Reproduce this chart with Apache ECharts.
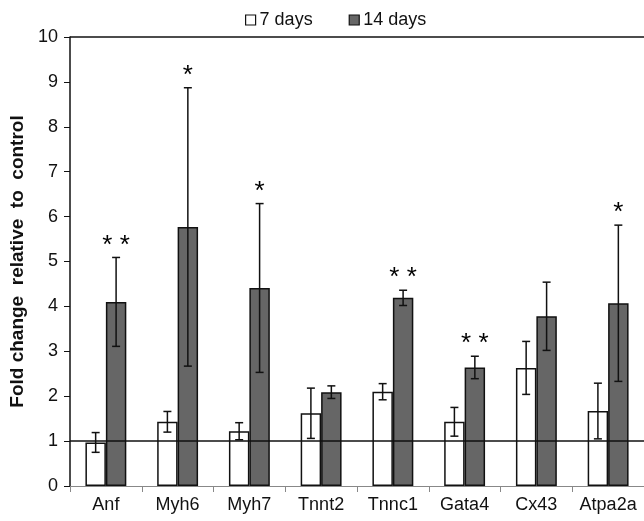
<!DOCTYPE html>
<html>
<head>
<meta charset="utf-8">
<script src="https://cdn.jsdelivr.net/npm/echarts@6/dist/echarts.min.js"></script>
<style>html,body{margin:0;padding:0;background:#fff}#c{width:644px;height:521px}</style>
</head>
<body>
<div id="c"></div>
<script>
var categories = ['Anf','Myh6','Myh7','Tnnt2','Tnnc1','Gata4','Cx43','Atpa2a'];
var days7 = [0.97, 1.43, 1.22, 1.62, 2.10, 1.43, 2.63, 1.67];
var err7 = [0.22, 0.23, 0.19, 0.56, 0.18, 0.32, 0.59, 0.62];
var days14 = [4.10, 5.77, 4.41, 2.09, 4.19, 2.64, 3.78, 4.07];
var err14 = [0.99, 3.10, 1.88, 0.14, 0.17, 0.25, 0.76, 1.74];
var sig14 = ['**', '*', '*', '', '**', '**', '', '*'];
var yTicks = [0,1,2,3,4,5,6,7,8,9,10];

var chart = echarts.init(document.getElementById('c'));
var BW = 0.285;
function errSeries(vals, errs, side, lw, name) {
  return {
    type: 'custom', name: name + ' err', z: 5,
    data: vals.map(function (v, i) { return [i, v, errs[i]]; }),
    renderItem: function (params, api) {
      var i = api.value(0), v = api.value(1), e = api.value(2);
      var band = api.size([1, 0])[0];
      var cx = api.coord([i, v])[0] + side * band * BW / 2;
      var yt = api.coord([i, v + e])[1];
      var yb = api.coord([i, v - e])[1];
      var cap = 4;
      var st = { stroke: '#111', lineWidth: lw };
      return { type: 'group', children: [
        { type: 'line', shape: { x1: cx, y1: yt, x2: cx, y2: yb }, style: st },
        { type: 'line', shape: { x1: cx - cap, y1: yt, x2: cx + cap, y2: yt }, style: st },
        { type: 'line', shape: { x1: cx - cap, y1: yb, x2: cx + cap, y2: yb }, style: st }
      ]};
    }
  };
}
var sigSeries = {
  type: 'custom', name: 'sig', z: 6,
  data: days14.map(function (v, i) { return [i, v + err14[i]]; }),
  renderItem: function (params, api) {
    var i = api.value(0), t = api.value(1);
    var s = sig14[i];
    if (!s) return null;
    var band = api.size([1, 0])[0];
    var cx = api.coord([i, t])[0] + band * BW / 2;
    var y = api.coord([i, t])[1];
    return { type: 'text', style: {
      x: cx, y: y + 1, text: s.split('').join(' '), textAlign: 'center', textVerticalAlign: 'bottom',
      font: '26px "Liberation Sans", Arial, sans-serif', fill: '#000'
    }};
  }
};

chart.setOption({
  animation: false,
  textStyle: { fontFamily: '"Liberation Sans", Arial, sans-serif' },
  legend: {
    top: 6, left: 240, itemWidth: 10, itemHeight: 10, itemGap: 36, icon: 'rect',
    textStyle: { fontSize: 18, color: '#111', padding: [0, 0, 0, -1] },
    data: [
      { name: '7 days', itemStyle: { color: '#fff', borderColor: '#111', borderWidth: 1.2 } },
      { name: '14 days', itemStyle: { color: '#666', borderColor: '#111', borderWidth: 1.2 } }
    ]
  },
  grid: { left: 68, right: 0, top: 37, bottom: 35 },
  xAxis: {
    type: 'category', data: categories,
    axisLine: { lineStyle: { color: '#888', width: 1 } },
    axisTick: { show: true, interval: 0, length: 6, lineStyle: { color: '#888' } },
    axisLabel: { fontSize: 18, color: '#111', margin: 10, interval: 0 }
  },
  yAxis: {
    type: 'value', min: 0, max: 10, interval: 1,
    name: 'Fold change  relative  to  control', nameLocation: 'middle', nameGap: 43,
    nameTextStyle: { fontSize: 19, fontWeight: 'bold', color: '#111' },
    axisLine: { show: true, lineStyle: { color: '#111', width: 1.5 } },
    axisTick: { show: true, length: 6, lineStyle: { color: '#111' } },
    axisLabel: { fontSize: 18, color: '#111', margin: 12,
      formatter: function (v) { return yTicks.indexOf(v) >= 0 ? String(v) : ''; } },
    splitLine: { show: false }
  },
  series: [
    { name: '7 days', type: 'bar', data: days7, barWidth: (BW * 100) + '%', barGap: '0%',
      itemStyle: { color: '#fff', borderColor: '#111', borderWidth: 1.5 },
      markLine: { silent: true, symbol: 'none', label: { show: false },
        lineStyle: { color: '#111', width: 1.5, type: 'solid' },
        data: [{ yAxis: 1 }, { yAxis: 10 }] }, z: 2 },
    { name: '14 days', type: 'bar', data: days14, barWidth: (BW * 100) + '%',
      itemStyle: { color: '#666', borderColor: '#111', borderWidth: 1.5 }, z: 2 },
    errSeries(days7, err7, -1, 1.5, '7 days'),
    errSeries(days14, err14, 1, 1.5, '14 days'),
    sigSeries
  ]
});
</script>
</body>
</html>
